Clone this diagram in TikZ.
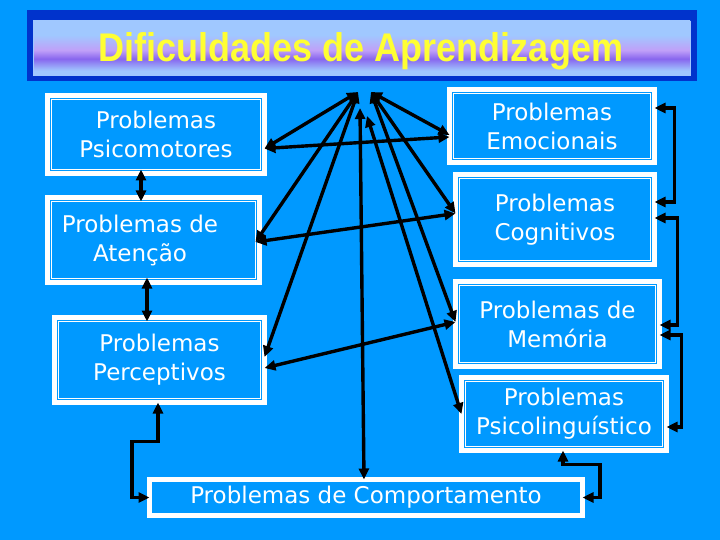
\documentclass[tikz,border=0pt]{standalone}
\usepackage{fontspec}
\setmainfont{DejaVu Sans}
\newfontfamily\titlefont[FakeStretch=0.9]{Liberation Sans}
\usetikzlibrary{calc,arrows.meta}

\definecolor{bgblue}{RGB}{0,153,255}
\definecolor{barblue}{RGB}{0,51,204}
\definecolor{tlight}{RGB}{160,200,255}
\definecolor{tpurple}{RGB}{136,102,238}
\definecolor{tlilac}{RGB}{192,160,248}
\definecolor{tyellow}{RGB}{255,255,51}
\pgfdeclareverticalshading{titlebar}{100bp}{color(0bp)=(tlight); color(29bp)=(tlight);
  color(40bp)=(tpurple); color(48bp)=(tlilac); color(62bp)=(tlight); color(100bp)=(tlight)}

\begin{document}
\begin{tikzpicture}[x=1pt,y=-1pt,
  frame/.style={rectangle,draw=white,line width=5pt,fill=bgblue,outer sep=0pt,inner sep=0pt,
    text=white,align=center,font=\fontsize{23}{29}\selectfont},
  dframe/.style={frame,path picture={\draw[white,line width=0.8pt]
      ([shift={(4.2pt,-4.2pt)}]path picture bounding box.north west) rectangle
      ([shift={(-4.2pt,4.2pt)}]path picture bounding box.south east);}},
  link/.style={line width=3.4pt,{Triangle[length=11pt,width=10pt]}-{Triangle[length=11pt,width=10pt]}}]
  \fill[bgblue] (0,0) rectangle (720,540);
  \useasboundingbox (0,0) rectangle (720,540);
  % title bar
  \fill[barblue] (27,10) rectangle (697,81);
  \shadedraw[shading=titlebar,draw=tlight,line width=0.6pt] (33,21) rectangle (690,75);
  \node[anchor=base,text=tyellow,font=\titlefont\bfseries\fontsize{40}{40}\selectfont] (title)
    at (361,62) {Dificuldades de Aprendizagem};
  % boxes
  \node[dframe,minimum width=217pt,minimum height=78pt] (psico) at (156,134.5) {Problemas\\Psicomotores};
  \node[dframe,minimum width=212pt,minimum height=85pt] (atenc) at (153.5,240)
    {Problemas de\hspace*{27pt}\\Atenção\hspace*{27pt}};
  \node[dframe,minimum width=210pt,minimum height=85pt] (percep) at (159.5,360) {Problemas\\Perceptivos};
  \node[dframe,minimum width=205pt,minimum height=73pt] (emoc) at (552,126) {Problemas\\Emocionais};
  \node[dframe,minimum width=199pt,minimum height=90pt] (cogn) at (555,219.5) {Problemas\\Cognitivos};
  \node[dframe,minimum width=204pt,minimum height=85pt] (memo) at (557.5,324) {Problemas de\\Memória};
  \node[dframe,minimum width=205pt,minimum height=73pt] (psicl) at (564,414) {Problemas\\Psicolinguístico};
  \node[frame,minimum width=433pt,minimum height=36pt] (comport) at (366,497.5) {Problemas de Comportamento};
  % hub points under the title
  \coordinate (hubL) at (358,92);
  \coordinate (hubR) at (371,92);
  \coordinate (hubC) at (360,108);
  \coordinate (hubP) at (367,116);
  \draw[link] (hubL) -- ($(psico.east)+(0,14)$);
  \draw[link] (hubL) -- ($(atenc.east)+(-4,2)$);
  \draw[link] (hubL) -- ($(percep.east)+(0,-3)$);
  \draw[link] (hubR) -- ($(emoc.west)+(0,9)$);
  \draw[link] (hubR) -- ($(cogn.west)+(0,-6)$);
  \draw[link] (hubR) -- ($(memo.west)+(0,-2)$);
  \draw[link] (hubP) -- (psicl.west);
  \draw[link] (hubC) -- ($(comport.north)+(-2,0)$);
  \draw[link] ($(psico.east)+(0,14)$) -- ($(emoc.west)+(0,11)$);
  \draw[link] ($(atenc.east)+(-4,2)$) -- ($(cogn.west)+(0,-6)$);
  \draw[link] ($(percep.east)+(0,8)$) -- ($(memo.west)+(0,-2)$);
  % left column
  \draw[link] ($(psico.south)+(-15,-4)$) -- ($(atenc.north)+(-12.5,4)$);
  \draw[link] ($(atenc.south)+(-6.5,-5)$) -- ($(percep.north)+(-12.5,4)$);
  \draw[link] ($(percep.south)+(-1.5,0)$) -- ++(0,39) -- ++(-26,0) |- (comport.west);
  % right column
  \draw[link] ($(emoc.east)+(0,-18)$) -- ++(20,0) |- ($(cogn.east)+(0,-17.5)$);
  \draw[link] ($(cogn.east)+(0,-1.5)$) -- ++(23,0) |- ($(memo.east)+(0,1)$);
  \draw[link] ($(memo.east)+(0,11)$) -- ++(22,0) |- ($(psicl.east)+(0,13)$);
  \draw[link] ($(psicl.south)+(-1,0)$) -- ++(0,14) -- ++(37,0) |- (comport.east);
\end{tikzpicture}
\end{document}
